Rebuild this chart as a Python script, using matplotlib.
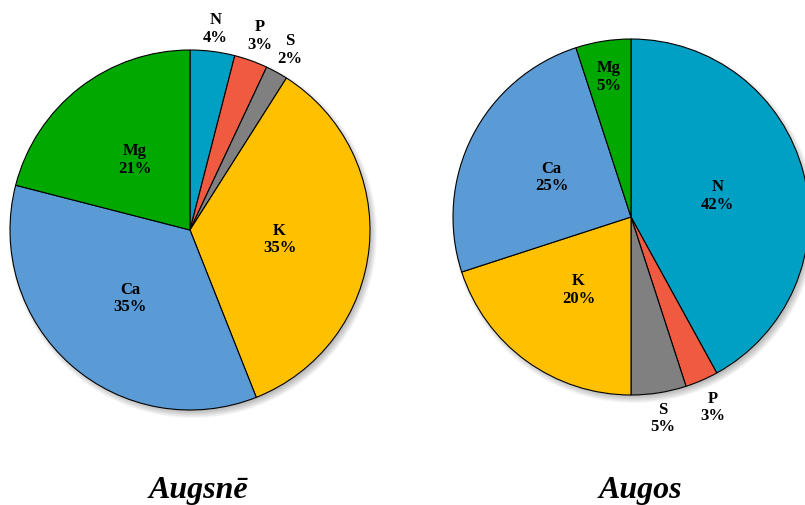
import matplotlib
matplotlib.use("Agg")
import matplotlib.pyplot as plt
from matplotlib.patches import Circle
import numpy as np

# Data
nutrients = ["N", "P", "S", "K", "Ca", "Mg"]
soil_values = [4, 3, 2, 35, 35, 21]      # Augsnē
plant_values = [42, 3, 5, 20, 25, 5]     # Augos
titles = ["Augsnē", "Augos"]

colors = ["#00A0C4", "#F05A40", "#808080", "#FFC000", "#5B9BD5", "#00A800"]

# label distance factors (style)
soil_dist = [1.13, 1.15, 1.15, 0.5, 0.5, 0.5]
plant_dist = [0.5, 1.16, 1.14, 0.5, 0.5, 0.8]

W, H = 805, 506
fig = plt.figure(figsize=(W / 100, H / 100), dpi=100)
ax = fig.add_axes([0, 0, 1, 1])
ax.set_xlim(0, W)
ax.set_ylim(0, H)
ax.set_aspect("equal")
ax.axis("off")

serif = ["Liberation Serif", "DejaVu Serif"]

def draw(values, center, radius, dists, title, title_xy):
    cx, cy = center
    # soft shadow
    for k in range(8):
        ax.add_patch(Circle((cx + 3, cy - 4), radius + 4 - k, color="black",
                            alpha=0.035, lw=0, zorder=1))
    ax.add_patch(Circle((cx, cy), radius, color="white", lw=0, zorder=1.5))
    wedges, _ = ax.pie(values, colors=colors, startangle=90, counterclock=False,
                       center=center, radius=radius,
                       wedgeprops=dict(edgecolor="black", linewidth=0.8),
                       frame=True)
    for w in wedges:
        w.set_zorder(2)
    total = float(sum(values))
    cum = 0.0
    for name, v, d in zip(nutrients, values, dists):
        mid = 90 - 360 * (cum + v / 2) / total
        cum += v
        a = np.deg2rad(mid)
        x = cx + d * radius * np.cos(a)
        y = cy + d * radius * np.sin(a)
        ax.text(x, y, f"{name}\n{v}%", ha="center", va="center",
                fontsize=12, fontweight="bold", family=serif,
                linespacing=1.15, zorder=5)
    ax.text(title_xy[0], title_xy[1], title, ha="center", va="center",
            fontsize=23, fontweight="bold", fontstyle="italic", family=serif)

draw(soil_values, (190, H - 231), 180, soil_dist, titles[0], (198, H - 491))
draw(plant_values, (631, H - 218), 178, plant_dist, titles[1], (640, H - 491))

ax.set_xlim(0, W)
ax.set_ylim(0, H)
ax.axis("off")
fig.savefig("out.png", dpi=100)
